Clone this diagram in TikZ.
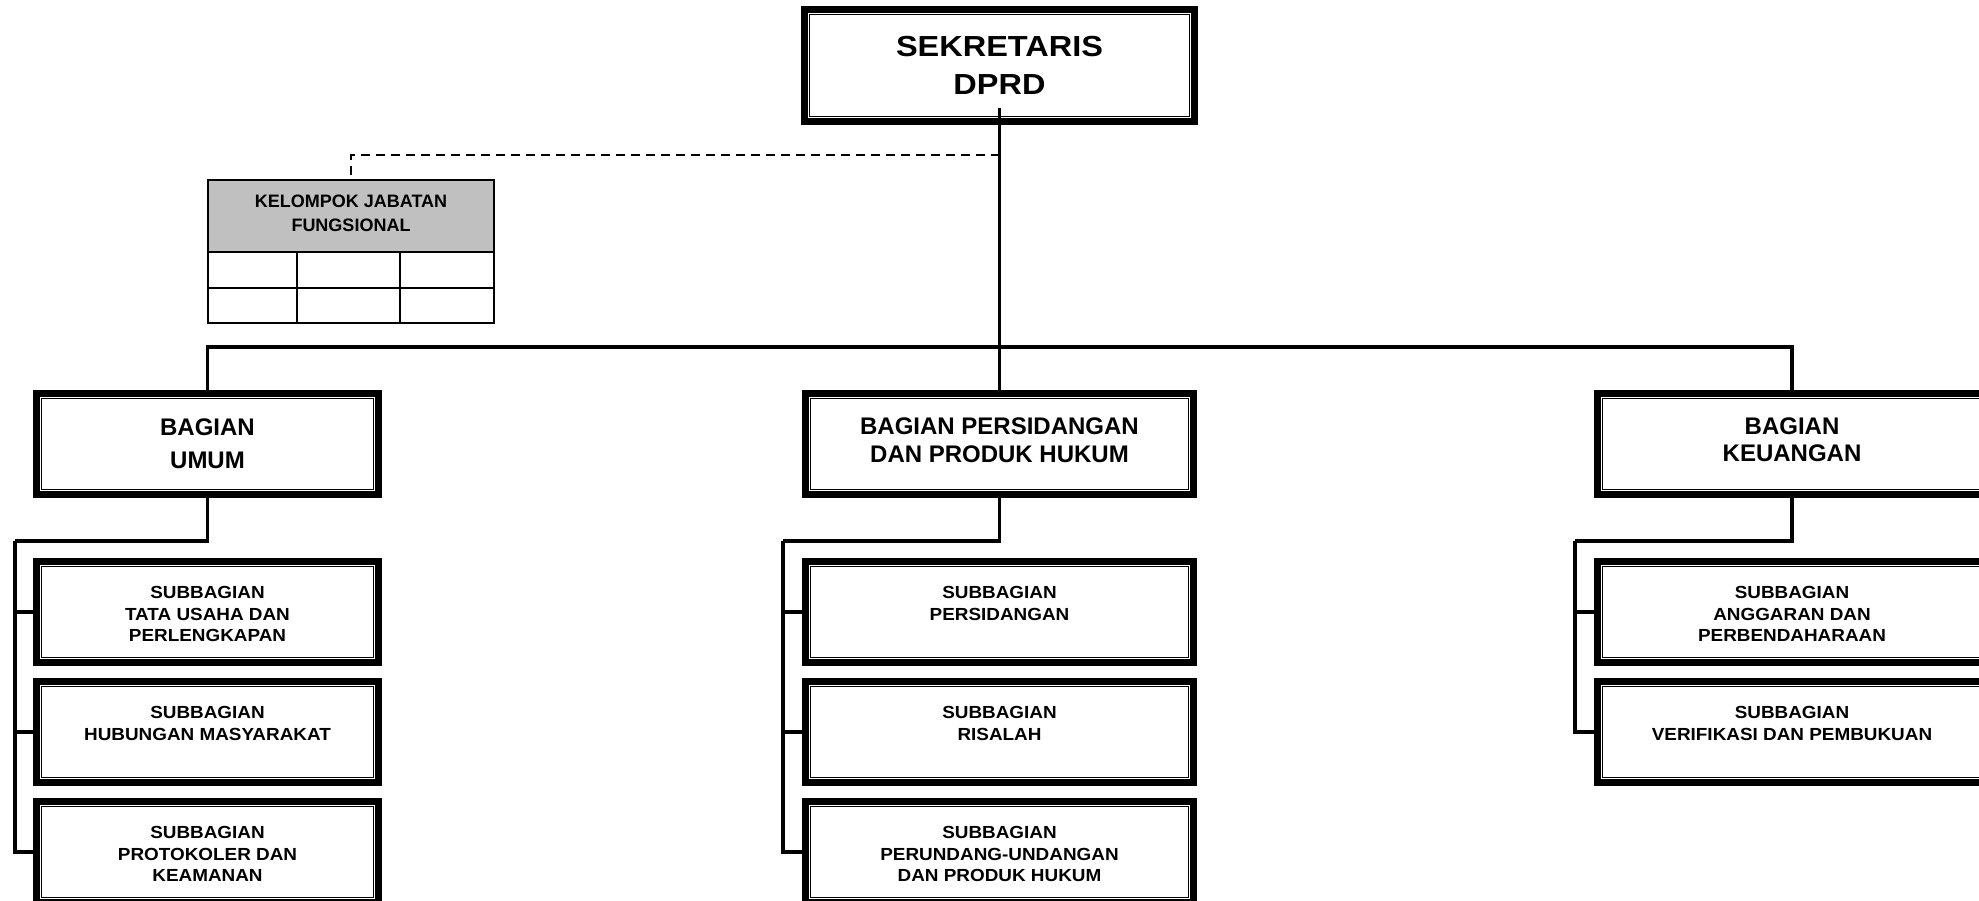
\documentclass[tikz,border=0pt]{standalone}
\usepackage{fontspec}
\setmainfont{Liberation Sans}
\newfontfamily\headfont[FakeStretch=1.12]{Liberation Sans}
\newfontfamily\unitfont{Liberation Sans}
\newfontfamily\subfont[FakeStretch=1.08]{Liberation Sans}
\newfontfamily\kelfont[FakeStretch=1.0]{Liberation Sans}
\usetikzlibrary{calc}
\definecolor{headgray}{RGB}{192,192,192}

\begin{document}
\begin{tikzpicture}[x=1pt,y=-1pt,
  orgbox/.style={draw, line width=7.4pt, inner sep=0pt, minimum height=101pt},
  widebox/.style={orgbox, minimum width=388pt},
  narrowbox/.style={orgbox, minimum width=342pt},
  innerline/.style={double, line width=1pt, double distance=1.1pt},
  conn/.style={line width=3.2pt},
  dashconn/.style={line width=2pt, dash pattern=on 9pt off 6pt},
  tabline/.style={line width=2pt},
  headtext/.style={anchor=north, inner sep=0pt, align=center,
    font=\headfont\bfseries\fontsize{29}{38}\selectfont},
  unittext/.style={anchor=north, inner sep=0pt, align=center,
    font=\unitfont\bfseries\fontsize{24}{28}\selectfont},
  subtext/.style={anchor=north, inner sep=0pt, align=center,
    font=\subfont\bfseries\fontsize{17.5}{21.5}\selectfont},
  keltext/.style={inner sep=0pt, align=center,
    font=\kelfont\bfseries\fontsize{18}{24}\selectfont}
]
\clip (0,0) rectangle (1979,901);

% ---- head of the secretariat
\node[orgbox, minimum width=390pt, minimum height=112pt] (sek) at (999.5,65.5) {};

% ---- divisions
\node[narrowbox] (umum)   at (207.5,444) {};
\node[widebox]   (sidang) at (999.5,444) {};
\node[widebox]   (keu)    at (1792,444) {};

% ---- sub-divisions
\node[narrowbox] (u1) at (207.5,612) {};
\node[narrowbox] (u2) at (207.5,732) {};
\node[narrowbox] (u3) at (207.5,852) {};
\node[widebox]   (p1) at (999.5,612) {};
\node[widebox]   (p2) at (999.5,732) {};
\node[widebox]   (p3) at (999.5,852) {};
\node[widebox]   (k1) at (1792,612) {};
\node[widebox]   (k2) at (1792,732) {};

% thin double line inside each thick frame
\foreach \n in {sek,umum,sidang,keu,u1,u2,u3,p1,p2,p3,k1,k2}
  \draw[innerline] ([shift={(7.6pt,-7.6pt)}]\n.north west)
                   rectangle ([shift={(-7.6pt,7.6pt)}]\n.south east);

% ---- functional group table
\node[draw, tabline, minimum width=286pt, minimum height=143pt, inner sep=0pt]
  (kel) at (351,251.5) {};
\node[draw, tabline, fill=headgray, minimum width=286pt, minimum height=72pt,
  inner sep=0pt, anchor=north] (kelhead) at (kel.north) {};
\node[keltext] (kelt) at ([yshift=2.5pt]kelhead.center) {KELOMPOK JABATAN\\FUNGSIONAL};
\coordinate (row) at (351,288);
\coordinate (colA) at (297,288);
\coordinate (colB) at (400,288);
\draw[tabline] (kel.west |- row) -- (kel.east |- row);
\draw[tabline] (colA |- kelhead.south) -- (colA |- kel.south);
\draw[tabline] (colB |- kelhead.south) -- (colB |- kel.south);

% ---- connectors
\coordinate (stem) at (999.5,108);
\coordinate (bus)  at (999.5,347);
\coordinate (dash) at (999.5,155);
\draw[conn] (stem) -- (sidang.north);
\draw[conn] (umum.north) |- (bus) -| (keu.north);
\draw[dashconn] (dash) -| (kel.north);

\coordinate (uL) at (15,541);
\coordinate (pL) at (783,541);
\coordinate (kL) at (1575,541);
\draw[conn] (umum.south) |- (uL);
\draw[conn] (uL) |- (u1.west);
\draw[conn] (uL) |- (u2.west);
\draw[conn] (uL) |- (u3.west);
\draw[conn] (sidang.south) |- (pL);
\draw[conn] (pL) |- (p1.west);
\draw[conn] (pL) |- (p2.west);
\draw[conn] (pL) |- (p3.west);
\draw[conn] (keu.south) |- (kL);
\draw[conn] (kL) |- (k1.west);
\draw[conn] (kL) |- (k2.west);

% ---- texts
\node[headtext] (sekt) at ([yshift=-30pt]sek.north) {SEKRETARIS\\DPRD};
\node[unittext, font=\unitfont\bfseries\fontsize{24}{33}\selectfont]
  (umumt) at ([yshift=-28.5pt]umum.north) {BAGIAN\\UMUM};
\node[unittext] (sidangt) at ([yshift=-27.5pt]sidang.north) {BAGIAN PERSIDANGAN\\DAN PRODUK HUKUM};
\node[unittext, font=\unitfont\bfseries\fontsize{24}{27}\selectfont]
  (keut) at ([yshift=-28pt]keu.north) {BAGIAN\\KEUANGAN};

\node[subtext] (u1t) at ([yshift=-28.5pt]u1.north) {SUBBAGIAN\\TATA USAHA DAN\\PERLENGKAPAN};
\node[subtext] (u2t) at ([yshift=-28.5pt]u2.north) {SUBBAGIAN\\HUBUNGAN MASYARAKAT};
\node[subtext] (u3t) at ([yshift=-28.5pt]u3.north) {SUBBAGIAN\\PROTOKOLER DAN\\KEAMANAN};
\node[subtext] (p1t) at ([yshift=-28.5pt]p1.north) {SUBBAGIAN\\PERSIDANGAN};
\node[subtext] (p2t) at ([yshift=-28.5pt]p2.north) {SUBBAGIAN\\RISALAH};
\node[subtext] (p3t) at ([yshift=-28.5pt]p3.north) {SUBBAGIAN\\PERUNDANG-UNDANGAN\\DAN PRODUK HUKUM};
\node[subtext] (k1t) at ([yshift=-28.5pt]k1.north) {SUBBAGIAN\\ANGGARAN DAN\\PERBENDAHARAAN};
\node[subtext] (k2t) at ([yshift=-28.5pt]k2.north) {SUBBAGIAN\\VERIFIKASI DAN PEMBUKUAN};
\end{tikzpicture}
\end{document}
